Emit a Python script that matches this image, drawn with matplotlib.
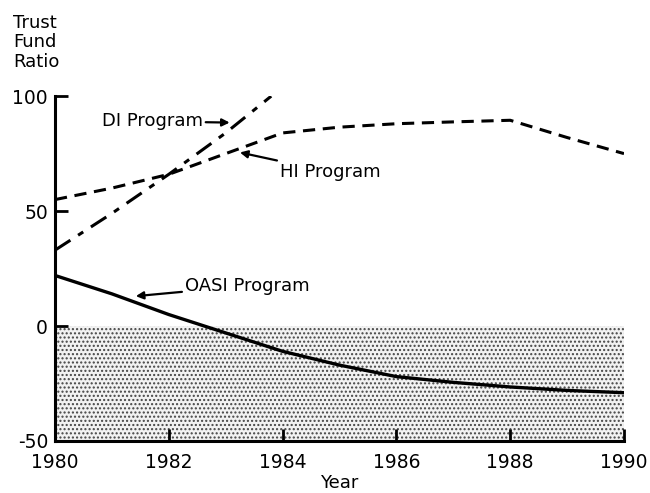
import numpy as np
import matplotlib.pyplot as plt

plt.rcParams['font.family'] = 'DejaVu Sans'
plt.rcParams['axes.unicode_minus'] = False

# values (trust fund ratio, percent)
di_years = [1980, 1981, 1982, 1983, 1983.8]
di_ratio = [33, 49, 66, 84, 100]

hi_years = [1980, 1981, 1982, 1983, 1984, 1985, 1986, 1987, 1988, 1989, 1990]
hi_ratio = [55, 60, 66, 75, 84, 86.5, 88, 88.8, 89.5, 82, 75]

oasi_years = [1980, 1981, 1982, 1983, 1984, 1985, 1986, 1987, 1988, 1989, 1990]
oasi_ratio = [22, 14, 5, -3, -11, -17, -22, -24.5, -26.5, -28, -29]

xticks = [1980, 1982, 1984, 1986, 1988, 1990]
yticks = [-50, 0, 50, 100]

fig = plt.figure(figsize=(6.5, 4.93), dpi=100)
ax = fig.add_axes([0.0846, 0.1055, 0.8754, 0.6995])

# shaded deficit zone
ax.fill_between([1980, 1990], -50, 0, facecolor='#f2f2f2', edgecolor='#444444',
                hatch='....', linewidth=0, zorder=0)

ax.plot(di_years, di_ratio, color='black', lw=2.2, dashes=(6, 3, 2, 3))
ax.plot(hi_years, hi_ratio, color='black', lw=2.2, dashes=(4, 2.5))
ax.plot(oasi_years, oasi_ratio, color='black', lw=2.4)

ax.set_xlim(1980, 1990)
ax.set_ylim(-50, 100)
ax.set_xticks(xticks)
ax.set_yticks(yticks)
ax.tick_params(direction='in', length=9, width=2, labelsize=13.5)
ax.tick_params(axis='x', pad=9)
ax.tick_params(axis='y', pad=5)
for s in ['top', 'right']:
    ax.spines[s].set_visible(False)
for s in ['left', 'bottom']:
    ax.spines[s].set_linewidth(2.2)
ax.set_xlabel('Year', fontsize=13, labelpad=1)

fig.text(0.02, 0.972, 'Trust\nFund\nRatio', fontsize=13, va='top', ha='left',
         linespacing=1.1)

arrow = dict(arrowstyle='-|>', color='black', lw=1.6, mutation_scale=11,
             shrinkA=0, shrinkB=0)
ax.annotate('DI Program', xy=(1983.07, 88.5), xytext=(1982.6, 89),
            fontsize=13, ha='right', va='center', arrowprops=arrow)
ax.annotate('HI Program', xy=(1983.25, 75.5), xytext=(1983.95, 67),
            fontsize=13, ha='left', va='center', arrowprops=arrow)
ax.annotate('OASI Program', xy=(1981.42, 13), xytext=(1982.28, 17.5),
            fontsize=13, ha='left', va='center', arrowprops=arrow)

fig.savefig('out.png', dpi=100)
